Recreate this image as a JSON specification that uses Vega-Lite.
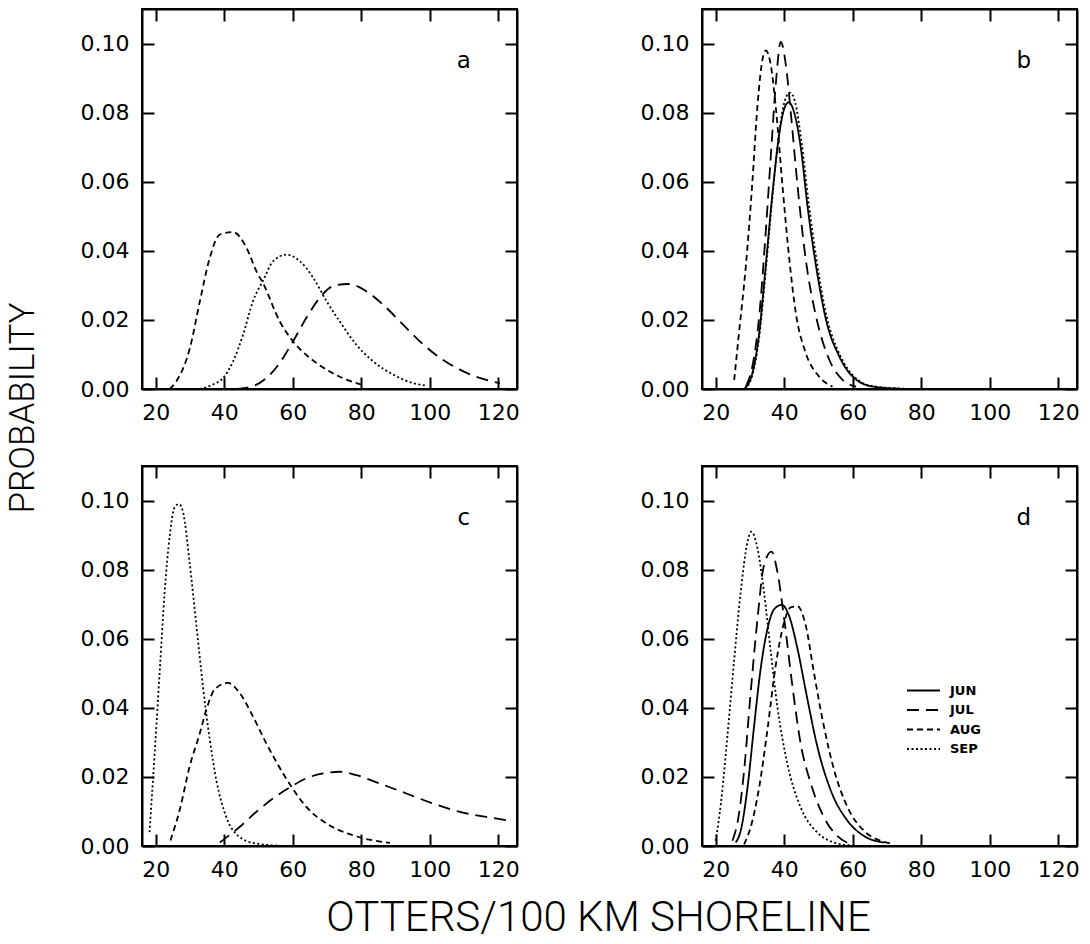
{
  "$schema": "https://vega.github.io/schema/vega-lite/v6.json",
  "padding": {"left": 6, "top": 7, "right": 5, "bottom": 0},
  "background": "white",
  "config": {
    "view": {"stroke": "black", "strokeWidth": 2},
    "axis": {"grid": false, "domainColor": "black", "domainWidth": 2, "tickColor": "black", "tickWidth": 2, "tickSize": -12, "labelFont": "DejaVu Sans", "labelFontSize": 22, "labelColor": "black"}
  },
  "datasets": {
    "labels": [{"p": "a", "t": "a"}, {"p": "b", "t": "b"}, {"p": "c", "t": "c"}, {"p": "d", "t": "d"}],
    "curves": [
      {"p":"a","m":"AUG","x":24.1,"y":0},{"p":"a","m":"AUG","x":26,"y":0.0022},{"p":"a","m":"AUG","x":30,"y":0.0119},{"p":"a","m":"AUG","x":32.9,"y":0.0254},{"p":"a","m":"AUG","x":35.8,"y":0.038},{"p":"a","m":"AUG","x":38.7,"y":0.0447},{"p":"a","m":"AUG","x":42.6,"y":0.0454},{"p":"a","m":"AUG","x":46.5,"y":0.0409},{"p":"a","m":"AUG","x":49.4,"y":0.0341},{"p":"a","m":"AUG","x":51.4,"y":0.0305},{"p":"a","m":"AUG","x":56.2,"y":0.0196},{"p":"a","m":"AUG","x":60.1,"y":0.0138},{"p":"a","m":"AUG","x":65,"y":0.009},{"p":"a","m":"AUG","x":69.9,"y":0.0056},{"p":"a","m":"AUG","x":75.7,"y":0.0027},{"p":"a","m":"AUG","x":80,"y":0.0013},
      {"p":"a","m":"SEP","x":32.9,"y":0},{"p":"a","m":"SEP","x":36.7,"y":0.0013},{"p":"a","m":"SEP","x":39.7,"y":0.0032},{"p":"a","m":"SEP","x":42.6,"y":0.008},{"p":"a","m":"SEP","x":45.5,"y":0.0157},{"p":"a","m":"SEP","x":48.4,"y":0.0254},{"p":"a","m":"SEP","x":51.4,"y":0.0315},{"p":"a","m":"SEP","x":54.3,"y":0.037},{"p":"a","m":"SEP","x":58.2,"y":0.0389},{"p":"a","m":"SEP","x":62.1,"y":0.037},{"p":"a","m":"SEP","x":66,"y":0.0322},{"p":"a","m":"SEP","x":69.9,"y":0.0254},{"p":"a","m":"SEP","x":73.7,"y":0.0196},{"p":"a","m":"SEP","x":78.6,"y":0.0128},{"p":"a","m":"SEP","x":83.5,"y":0.008},{"p":"a","m":"SEP","x":89.3,"y":0.0042},{"p":"a","m":"SEP","x":95.2,"y":0.0017},{"p":"a","m":"SEP","x":99.1,"y":0.001},
      {"p":"a","m":"JUL","x":43.6,"y":0},{"p":"a","m":"JUL","x":48.4,"y":0.0008},{"p":"a","m":"JUL","x":52.3,"y":0.0032},{"p":"a","m":"JUL","x":56.2,"y":0.0075},{"p":"a","m":"JUL","x":60.1,"y":0.0138},{"p":"a","m":"JUL","x":64,"y":0.0206},{"p":"a","m":"JUL","x":67.9,"y":0.0264},{"p":"a","m":"JUL","x":71.8,"y":0.0298},{"p":"a","m":"JUL","x":76.2,"y":0.0304},{"p":"a","m":"JUL","x":81.5,"y":0.0283},{"p":"a","m":"JUL","x":86.4,"y":0.0244},{"p":"a","m":"JUL","x":91.3,"y":0.0196},{"p":"a","m":"JUL","x":97.1,"y":0.0138},{"p":"a","m":"JUL","x":103,"y":0.009},{"p":"a","m":"JUL","x":108.8,"y":0.0056},{"p":"a","m":"JUL","x":114.6,"y":0.0032},{"p":"a","m":"JUL","x":120.5,"y":0.0017},
      {"p":"b","m":"AUG","x":25.4,"y":0.0026},{"p":"b","m":"AUG","x":26.8,"y":0.0162},{"p":"b","m":"AUG","x":28.8,"y":0.0356},{"p":"b","m":"AUG","x":30.7,"y":0.0598},{"p":"b","m":"AUG","x":32.2,"y":0.082},{"p":"b","m":"AUG","x":33.7,"y":0.0956},{"p":"b","m":"AUG","x":34.6,"y":0.098},{"p":"b","m":"AUG","x":36.1,"y":0.0937},{"p":"b","m":"AUG","x":37.6,"y":0.081},{"p":"b","m":"AUG","x":39.5,"y":0.0588},{"p":"b","m":"AUG","x":41.5,"y":0.0375},{"p":"b","m":"AUG","x":43.4,"y":0.022},{"p":"b","m":"AUG","x":46.3,"y":0.0104},{"p":"b","m":"AUG","x":50.2,"y":0.0036},{"p":"b","m":"AUG","x":54.1,"y":0.0007},
      {"p":"b","m":"JUL","x":28.8,"y":0.0007},{"p":"b","m":"JUL","x":30.7,"y":0.0065},{"p":"b","m":"JUL","x":32.7,"y":0.021},{"p":"b","m":"JUL","x":34.6,"y":0.0453},{"p":"b","m":"JUL","x":36.1,"y":0.0675},{"p":"b","m":"JUL","x":37.6,"y":0.0889},{"p":"b","m":"JUL","x":39,"y":0.1005},{"p":"b","m":"JUL","x":40.5,"y":0.0937},{"p":"b","m":"JUL","x":42,"y":0.0792},{"p":"b","m":"JUL","x":43.9,"y":0.0588},{"p":"b","m":"JUL","x":46.3,"y":0.0375},{"p":"b","m":"JUL","x":49.3,"y":0.021},{"p":"b","m":"JUL","x":53.2,"y":0.0084},{"p":"b","m":"JUL","x":57.1,"y":0.0026},{"p":"b","m":"JUL","x":61,"y":0.0007},
      {"p":"b","m":"JUN","x":28.3,"y":0},{"p":"b","m":"JUN","x":30.7,"y":0.0046},{"p":"b","m":"JUN","x":32.7,"y":0.0162},{"p":"b","m":"JUN","x":34.6,"y":0.0356},{"p":"b","m":"JUN","x":36.6,"y":0.0569},{"p":"b","m":"JUN","x":38.5,"y":0.0734},{"p":"b","m":"JUN","x":40,"y":0.0811},{"p":"b","m":"JUN","x":41.3,"y":0.083},{"p":"b","m":"JUN","x":42.9,"y":0.0801},{"p":"b","m":"JUN","x":44.9,"y":0.0695},{"p":"b","m":"JUN","x":46.8,"y":0.053},{"p":"b","m":"JUN","x":49.3,"y":0.0356},{"p":"b","m":"JUN","x":52.2,"y":0.0201},{"p":"b","m":"JUN","x":56.1,"y":0.0094},{"p":"b","m":"JUN","x":60,"y":0.0036},{"p":"b","m":"JUN","x":65.9,"y":0.0007},{"p":"b","m":"JUN","x":73.7,"y":0.0001},
      {"p":"b","m":"SEP","x":28.5,"y":0},{"p":"b","m":"SEP","x":30.7,"y":0.004},{"p":"b","m":"SEP","x":32.7,"y":0.015},{"p":"b","m":"SEP","x":34.6,"y":0.034},{"p":"b","m":"SEP","x":36.6,"y":0.056},{"p":"b","m":"SEP","x":38.5,"y":0.074},{"p":"b","m":"SEP","x":40.2,"y":0.0835},{"p":"b","m":"SEP","x":41.7,"y":0.0858},{"p":"b","m":"SEP","x":43.2,"y":0.083},{"p":"b","m":"SEP","x":45,"y":0.072},{"p":"b","m":"SEP","x":47,"y":0.055},{"p":"b","m":"SEP","x":49.5,"y":0.037},{"p":"b","m":"SEP","x":52.4,"y":0.021},{"p":"b","m":"SEP","x":56.3,"y":0.0098},{"p":"b","m":"SEP","x":60.2,"y":0.0038},{"p":"b","m":"SEP","x":66,"y":0.0008},{"p":"b","m":"SEP","x":75,"y":0.0001},
      {"p":"c","m":"SEP","x":18.2,"y":0.004},{"p":"c","m":"SEP","x":19.7,"y":0.0268},{"p":"c","m":"SEP","x":21.2,"y":0.051},{"p":"c","m":"SEP","x":22.6,"y":0.0733},{"p":"c","m":"SEP","x":24.1,"y":0.0898},{"p":"c","m":"SEP","x":25.5,"y":0.098},{"p":"c","m":"SEP","x":26.8,"y":0.099},{"p":"c","m":"SEP","x":28,"y":0.0966},{"p":"c","m":"SEP","x":29.9,"y":0.0821},{"p":"c","m":"SEP","x":31.9,"y":0.0637},{"p":"c","m":"SEP","x":33.8,"y":0.0462},{"p":"c","m":"SEP","x":35.8,"y":0.0307},{"p":"c","m":"SEP","x":37.7,"y":0.0191},{"p":"c","m":"SEP","x":40.6,"y":0.0084},{"p":"c","m":"SEP","x":44.5,"y":0.0026},{"p":"c","m":"SEP","x":49.4,"y":0.0007},{"p":"c","m":"SEP","x":58.2,"y":0},
      {"p":"c","m":"AUG","x":24.3,"y":0.0016},{"p":"c","m":"AUG","x":27,"y":0.0104},{"p":"c","m":"AUG","x":29.9,"y":0.023},{"p":"c","m":"AUG","x":32.9,"y":0.0327},{"p":"c","m":"AUG","x":34.8,"y":0.0395},{"p":"c","m":"AUG","x":37.2,"y":0.0453},{"p":"c","m":"AUG","x":41.1,"y":0.0472},{"p":"c","m":"AUG","x":44.5,"y":0.0443},{"p":"c","m":"AUG","x":48.4,"y":0.0375},{"p":"c","m":"AUG","x":52.3,"y":0.0297},{"p":"c","m":"AUG","x":57.2,"y":0.021},{"p":"c","m":"AUG","x":59.6,"y":0.0172},{"p":"c","m":"AUG","x":64,"y":0.0113},{"p":"c","m":"AUG","x":69.9,"y":0.0065},{"p":"c","m":"AUG","x":77.6,"y":0.0031},{"p":"c","m":"AUG","x":88.4,"y":0.0009},
      {"p":"c","m":"JUL","x":38.7,"y":0.001},{"p":"c","m":"JUL","x":44.5,"y":0.0055},{"p":"c","m":"JUL","x":49.4,"y":0.0099},{"p":"c","m":"JUL","x":54.3,"y":0.0138},{"p":"c","m":"JUL","x":59.6,"y":0.0172},{"p":"c","m":"JUL","x":64,"y":0.0196},{"p":"c","m":"JUL","x":68.9,"y":0.021},{"p":"c","m":"JUL","x":73.7,"y":0.0215},{"p":"c","m":"JUL","x":78.6,"y":0.0205},{"p":"c","m":"JUL","x":85.4,"y":0.0181},{"p":"c","m":"JUL","x":93.2,"y":0.0152},{"p":"c","m":"JUL","x":101,"y":0.0123},{"p":"c","m":"JUL","x":108.8,"y":0.0099},{"p":"c","m":"JUL","x":116.6,"y":0.0084},{"p":"c","m":"JUL","x":122.4,"y":0.0075},
      {"p":"d","m":"SEP","x":20,"y":0.0015},{"p":"d","m":"SEP","x":21.5,"y":0.0122},{"p":"d","m":"SEP","x":23.4,"y":0.0316},{"p":"d","m":"SEP","x":25.4,"y":0.054},{"p":"d","m":"SEP","x":27.3,"y":0.0735},{"p":"d","m":"SEP","x":29.3,"y":0.0881},{"p":"d","m":"SEP","x":30.4,"y":0.091},{"p":"d","m":"SEP","x":32.2,"y":0.0862},{"p":"d","m":"SEP","x":34.1,"y":0.0735},{"p":"d","m":"SEP","x":36.1,"y":0.056},{"p":"d","m":"SEP","x":38,"y":0.0404},{"p":"d","m":"SEP","x":40.9,"y":0.0239},{"p":"d","m":"SEP","x":44.8,"y":0.0112},{"p":"d","m":"SEP","x":49.7,"y":0.0039},{"p":"d","m":"SEP","x":54.6,"y":0.001},{"p":"d","m":"SEP","x":59.4,"y":0.0002},
      {"p":"d","m":"JUL","x":24.9,"y":0.0015},{"p":"d","m":"JUL","x":26.8,"y":0.0093},{"p":"d","m":"JUL","x":28.3,"y":0.0219},{"p":"d","m":"JUL","x":30.2,"y":0.0443},{"p":"d","m":"JUL","x":32.2,"y":0.0657},{"p":"d","m":"JUL","x":34.1,"y":0.0813},{"p":"d","m":"JUL","x":36.3,"y":0.0852},{"p":"d","m":"JUL","x":38,"y":0.0794},{"p":"d","m":"JUL","x":40,"y":0.0657},{"p":"d","m":"JUL","x":42.4,"y":0.0463},{"p":"d","m":"JUL","x":44.8,"y":0.0297},{"p":"d","m":"JUL","x":47.8,"y":0.018},{"p":"d","m":"JUL","x":51.6,"y":0.0083},{"p":"d","m":"JUL","x":55.5,"y":0.0029},{"p":"d","m":"JUL","x":59.4,"y":0.0005},
      {"p":"d","m":"JUN","x":25.8,"y":0.001},{"p":"d","m":"JUN","x":27.3,"y":0.0044},{"p":"d","m":"JUN","x":29.3,"y":0.017},{"p":"d","m":"JUN","x":31.2,"y":0.0346},{"p":"d","m":"JUN","x":33.1,"y":0.0511},{"p":"d","m":"JUN","x":35.1,"y":0.0628},{"p":"d","m":"JUN","x":37.1,"y":0.0686},{"p":"d","m":"JUN","x":39.3,"y":0.0698},{"p":"d","m":"JUN","x":41.4,"y":0.0667},{"p":"d","m":"JUN","x":43.9,"y":0.057},{"p":"d","m":"JUN","x":46.8,"y":0.0424},{"p":"d","m":"JUN","x":49.7,"y":0.0287},{"p":"d","m":"JUN","x":53.6,"y":0.0161},{"p":"d","m":"JUN","x":58.5,"y":0.0073},{"p":"d","m":"JUN","x":63.3,"y":0.0029},{"p":"d","m":"JUN","x":69.2,"y":0.001},
      {"p":"d","m":"AUG","x":28.3,"y":0.0005},{"p":"d","m":"AUG","x":30.2,"y":0.0054},{"p":"d","m":"AUG","x":32.7,"y":0.017},{"p":"d","m":"AUG","x":35.1,"y":0.0336},{"p":"d","m":"AUG","x":37.5,"y":0.0521},{"p":"d","m":"AUG","x":40,"y":0.0648},{"p":"d","m":"AUG","x":41.9,"y":0.0691},{"p":"d","m":"AUG","x":43.9,"y":0.0694},{"p":"d","m":"AUG","x":46.3,"y":0.0638},{"p":"d","m":"AUG","x":48.7,"y":0.0501},{"p":"d","m":"AUG","x":51.6,"y":0.0346},{"p":"d","m":"AUG","x":54.6,"y":0.0219},{"p":"d","m":"AUG","x":58.5,"y":0.0112},{"p":"d","m":"AUG","x":63.3,"y":0.0044},{"p":"d","m":"AUG","x":68.2,"y":0.0015},{"p":"d","m":"AUG","x":71.6,"y":0.0007}
    ]
  },
  "title": {"text": "PROBABILITY", "orient": "left", "anchor": "middle", "font": "Roboto", "fontWeight": 300, "fontSize": 35, "color": "black", "offset": 38, "dx": 65},
  "vconcat": [
    {
      "title": {"text": "OTTERS/100 KM SHORELINE", "orient": "bottom", "anchor": "middle", "font": "Roboto", "fontWeight": 300, "fontSize": 42, "color": "black", "offset": 17, "dx": 19},
      "columns": 2,
      "spacing": {"row": 77, "column": 185},
      "bounds": "flush",
      "concat": [
        {"width": 375, "height": 380, "layer": [
          {"data": {"name": "curves"}, "transform": [{"filter": "datum.p === 'a'"}],
           "mark": {"type": "line", "color": "black", "strokeWidth": 1.8, "interpolate": "monotone"},
           "encoding": {
             "x": {"field": "x", "type": "quantitative", "scale": {"domain": [16, 125.5], "nice": false, "zero": false}, "axis": {"orient": "bottom", "values": [20, 40, 60, 80, 100, 120], "title": null, "labelPadding": 25}},
             "y": {"field": "y", "type": "quantitative", "scale": {"domain": [0, 0.11], "nice": false}, "axis": {"orient": "left", "values": [0, 0.02, 0.04, 0.06, 0.08, 0.1], "format": ".2f", "title": null, "labelPadding": 25}},
             "strokeDash": {"field": "m", "type": "nominal", "scale": {"domain": ["JUN", "JUL", "AUG", "SEP"], "range": [[1, 0], [12, 7], [6, 4], [2, 2.5]]}, "legend": {"orient": "none", "legendX": 773, "legendY": 673, "title": null, "symbolType": "M-2.2,0H2.2", "symbolSize": 225, "symbolStrokeWidth": 2, "symbolStrokeColor": "black", "labelFont": "DejaVu Sans", "labelFontSize": 13, "labelFontWeight": "bold", "labelColor": "black", "labelOffset": 18, "rowPadding": 3.5}}
           }},
          {"data": {"name": "labels"}, "transform": [{"filter": "datum.p === 'a'"}],
           "mark": {"type": "text", "font": "DejaVu Sans", "fontSize": 23, "color": "black"},
           "encoding": {
             "x": {"datum": 110, "type": "quantitative", "scale": {"domain": [16, 125.5], "nice": false, "zero": false}, "axis": {"orient": "top", "values": [20, 40, 60, 80, 100, 120], "labels": false, "title": null}},
             "y": {"datum": 0.095, "type": "quantitative", "scale": {"domain": [0, 0.11], "nice": false}, "axis": {"orient": "right", "values": [0, 0.02, 0.04, 0.06, 0.08, 0.1], "labels": false, "title": null}},
             "text": {"field": "t"}
           }}
        ]},
        {"width": 375, "height": 380, "layer": [
          {"data": {"name": "curves"}, "transform": [{"filter": "datum.p === 'b'"}],
           "mark": {"type": "line", "color": "black", "strokeWidth": 1.8, "interpolate": "monotone"},
           "encoding": {
             "x": {"field": "x", "type": "quantitative", "scale": {"domain": [16, 125.5], "nice": false, "zero": false}, "axis": {"orient": "bottom", "values": [20, 40, 60, 80, 100, 120], "title": null, "labelPadding": 25}},
             "y": {"field": "y", "type": "quantitative", "scale": {"domain": [0, 0.11], "nice": false}, "axis": {"orient": "left", "values": [0, 0.02, 0.04, 0.06, 0.08, 0.1], "format": ".2f", "title": null, "labelPadding": 25}},
             "strokeDash": {"field": "m", "type": "nominal", "scale": {"domain": ["JUN", "JUL", "AUG", "SEP"], "range": [[1, 0], [12, 7], [6, 4], [2, 2.5]]}, "legend": {"orient": "none", "legendX": 773, "legendY": 673, "title": null, "symbolType": "M-2.2,0H2.2", "symbolSize": 225, "symbolStrokeWidth": 2, "symbolStrokeColor": "black", "labelFont": "DejaVu Sans", "labelFontSize": 13, "labelFontWeight": "bold", "labelColor": "black", "labelOffset": 18, "rowPadding": 3.5}}
           }},
          {"data": {"name": "labels"}, "transform": [{"filter": "datum.p === 'b'"}],
           "mark": {"type": "text", "font": "DejaVu Sans", "fontSize": 23, "color": "black"},
           "encoding": {
             "x": {"datum": 110, "type": "quantitative", "scale": {"domain": [16, 125.5], "nice": false, "zero": false}, "axis": {"orient": "top", "values": [20, 40, 60, 80, 100, 120], "labels": false, "title": null}},
             "y": {"datum": 0.095, "type": "quantitative", "scale": {"domain": [0, 0.11], "nice": false}, "axis": {"orient": "right", "values": [0, 0.02, 0.04, 0.06, 0.08, 0.1], "labels": false, "title": null}},
             "text": {"field": "t"}
           }}
        ]},
        {"width": 375, "height": 380, "layer": [
          {"data": {"name": "curves"}, "transform": [{"filter": "datum.p === 'c'"}],
           "mark": {"type": "line", "color": "black", "strokeWidth": 1.8, "interpolate": "monotone"},
           "encoding": {
             "x": {"field": "x", "type": "quantitative", "scale": {"domain": [16, 125.5], "nice": false, "zero": false}, "axis": {"orient": "bottom", "values": [20, 40, 60, 80, 100, 120], "title": null, "labelPadding": 25}},
             "y": {"field": "y", "type": "quantitative", "scale": {"domain": [0, 0.11], "nice": false}, "axis": {"orient": "left", "values": [0, 0.02, 0.04, 0.06, 0.08, 0.1], "format": ".2f", "title": null, "labelPadding": 25}},
             "strokeDash": {"field": "m", "type": "nominal", "scale": {"domain": ["JUN", "JUL", "AUG", "SEP"], "range": [[1, 0], [12, 7], [6, 4], [2, 2.5]]}, "legend": {"orient": "none", "legendX": 773, "legendY": 673, "title": null, "symbolType": "M-2.2,0H2.2", "symbolSize": 225, "symbolStrokeWidth": 2, "symbolStrokeColor": "black", "labelFont": "DejaVu Sans", "labelFontSize": 13, "labelFontWeight": "bold", "labelColor": "black", "labelOffset": 18, "rowPadding": 3.5}}
           }},
          {"data": {"name": "labels"}, "transform": [{"filter": "datum.p === 'c'"}],
           "mark": {"type": "text", "font": "DejaVu Sans", "fontSize": 23, "color": "black"},
           "encoding": {
             "x": {"datum": 110, "type": "quantitative", "scale": {"domain": [16, 125.5], "nice": false, "zero": false}, "axis": {"orient": "top", "values": [20, 40, 60, 80, 100, 120], "labels": false, "title": null}},
             "y": {"datum": 0.095, "type": "quantitative", "scale": {"domain": [0, 0.11], "nice": false}, "axis": {"orient": "right", "values": [0, 0.02, 0.04, 0.06, 0.08, 0.1], "labels": false, "title": null}},
             "text": {"field": "t"}
           }}
        ]},
        {"width": 375, "height": 380, "layer": [
          {"data": {"name": "curves"}, "transform": [{"filter": "datum.p === 'd'"}],
           "mark": {"type": "line", "color": "black", "strokeWidth": 1.8, "interpolate": "monotone"},
           "encoding": {
             "x": {"field": "x", "type": "quantitative", "scale": {"domain": [16, 125.5], "nice": false, "zero": false}, "axis": {"orient": "bottom", "values": [20, 40, 60, 80, 100, 120], "title": null, "labelPadding": 25}},
             "y": {"field": "y", "type": "quantitative", "scale": {"domain": [0, 0.11], "nice": false}, "axis": {"orient": "left", "values": [0, 0.02, 0.04, 0.06, 0.08, 0.1], "format": ".2f", "title": null, "labelPadding": 25}},
             "strokeDash": {"field": "m", "type": "nominal", "scale": {"domain": ["JUN", "JUL", "AUG", "SEP"], "range": [[1, 0], [12, 7], [6, 4], [2, 2.5]]}, "legend": {"orient": "none", "legendX": 773, "legendY": 673, "title": null, "symbolType": "M-2.2,0H2.2", "symbolSize": 225, "symbolStrokeWidth": 2, "symbolStrokeColor": "black", "labelFont": "DejaVu Sans", "labelFontSize": 13, "labelFontWeight": "bold", "labelColor": "black", "labelOffset": 18, "rowPadding": 3.5}}
           }},
          {"data": {"name": "labels"}, "transform": [{"filter": "datum.p === 'd'"}],
           "mark": {"type": "text", "font": "DejaVu Sans", "fontSize": 23, "color": "black"},
           "encoding": {
             "x": {"datum": 110, "type": "quantitative", "scale": {"domain": [16, 125.5], "nice": false, "zero": false}, "axis": {"orient": "top", "values": [20, 40, 60, 80, 100, 120], "labels": false, "title": null}},
             "y": {"datum": 0.095, "type": "quantitative", "scale": {"domain": [0, 0.11], "nice": false}, "axis": {"orient": "right", "values": [0, 0.02, 0.04, 0.06, 0.08, 0.1], "labels": false, "title": null}},
             "text": {"field": "t"}
           }}
        ]}
      ]
    }
  ]
}
